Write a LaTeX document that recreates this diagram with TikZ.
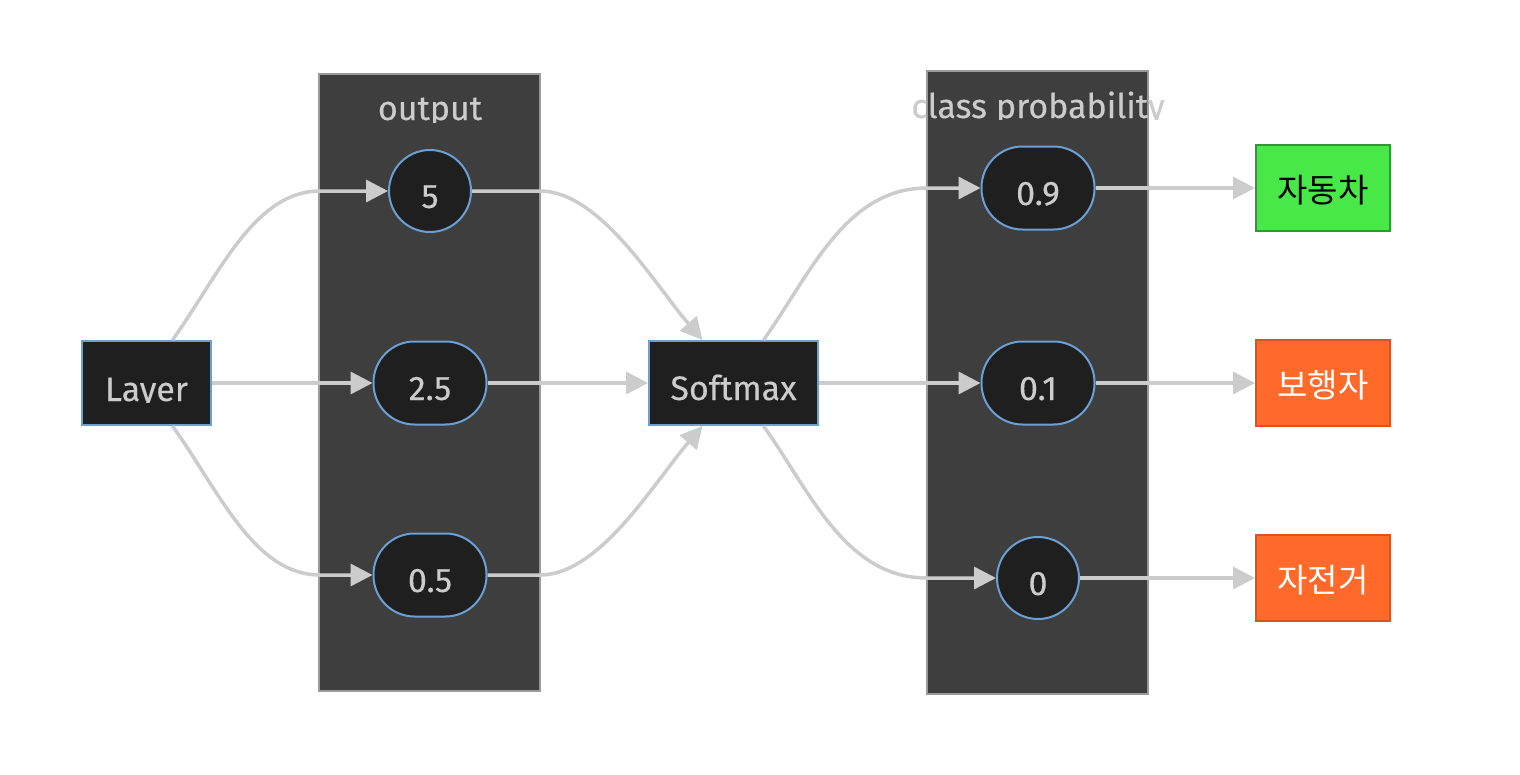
\documentclass[tikz,border=0pt]{standalone}
\usepackage{fontspec}
\setmainfont{Fira Sans}[FakeBold=0.3]
\newfontfamily\kr{Noto Sans CJK KR}
\usetikzlibrary{arrows.meta,calc}
\definecolor{edgecol}{HTML}{CCCCCC}
\definecolor{clfill}{HTML}{3D3E3D}
\definecolor{clborder}{HTML}{9A9A9A}
\definecolor{nfill}{HTML}{1F1F1F}
\definecolor{nborder}{HTML}{6C9FD4}
\definecolor{ntext}{HTML}{CCCCCC}
\definecolor{grfill}{HTML}{47E847}
\definecolor{grborder}{HTML}{2F9A2F}
\definecolor{orfill}{HTML}{FF6A2A}
\definecolor{orborder}{HTML}{D9541E}
\newcommand{\lbl}[1]{\raisebox{-17pt}[0pt][0pt]{#1}}
\newcommand{\klbl}[1]{\raisebox{-14pt}[0pt][0pt]{#1}}
\begin{document}
\begin{tikzpicture}[x=1pt,y=-1pt,
  cluster/.style={draw=clborder,fill=clfill,line width=1.2pt},
  cltext/.style={text=ntext,font=\fontsize{34}{40}\selectfont,inner sep=0pt,anchor=base},
  nbase/.style={draw=nborder,fill=nfill,line width=2pt,text=ntext,font=\fontsize{34}{40}\selectfont,inner sep=0pt},
  rectnode/.style={nbase,rectangle},
  circnode/.style={nbase,circle,minimum size=82pt},
  pillnode/.style={nbase,rectangle,rounded corners=41pt,minimum width=113pt,minimum height=83pt},
  classnode/.style={rectangle,line width=2pt,inner sep=0pt,minimum width=134pt,minimum height=86pt,font=\kr\fontsize{33}{38}\selectfont},
  edge/.style={draw=edgecol,line width=3.5pt,-{Triangle[length=22pt,width=22pt]}}
]
\useasboundingbox (0,0) rectangle (1520,774);
\fill[white] (0,0) rectangle (1520,774);
% clusters
\draw[cluster] (319,74) rectangle (540,691);
\draw[cluster] (927,71) rectangle (1148,694);
\begin{scope}
\clip (300,60) rectangle (560,122);
\node[cltext] (lout) at (430,120) {output};
\end{scope}
\begin{scope}
\clip (880,60) rectangle (1200,119.5);
\node[cltext] (lcp) at (1038,118) {class probability};
\end{scope}
% nodes
\node[rectnode,minimum width=129pt,minimum height=84pt] (lay) at (146.5,383) {};
\begin{scope}
\clip (90,350) rectangle (205,402.5);
\node[text=ntext,font=\fontsize{34}{40}\selectfont,inner sep=0pt,anchor=base] (laytext) at (146.5,401) {Layer};
\end{scope}
\node[circnode] (n5) at (430,191) {\lbl{5}};
\node[pillnode] (n25) at (430,383) {\lbl{2.5}};
\node[pillnode] (n05) at (430,575) {\lbl{0.5}};
\node[rectnode,minimum width=169pt,minimum height=84pt] (sm) at (733.5,383) {\lbl{Softmax}};
\node[pillnode] (n09) at (1038,188) {\lbl{0.9}};
\node[pillnode] (n01) at (1038,383) {\lbl{0.1}};
\node[circnode] (n0) at (1038,578) {\lbl{0}};
\node[classnode,draw=grborder,fill=grfill,text=black] (car) at (1323,188) {\klbl{자동차}};
\node[classnode,draw=orborder,fill=orfill,text=white] (ped) at (1323,383) {\klbl{보행자}};
\node[classnode,draw=orborder,fill=orfill,text=white] (bike) at (1323,578) {\klbl{자전거}};
% edges
\draw[edge] ([xshift=26pt]lay.north) .. controls (219,275) and (254,191) .. (320,191) -- (n5);
\draw[edge] (lay) -- (n25);
\draw[edge] ([xshift=26pt]lay.south) .. controls (219,491) and (254,575) .. (320,575) -- (n05);
\draw[edge] (n5.east) -- (540,191) .. controls (600,191) and (655,285) .. ([xshift=-31pt]sm.north);
\draw[edge] (n25) -- (sm);
\draw[edge] (n05.east) -- (540,575) .. controls (600,575) and (655,481) .. ([xshift=-31pt]sm.south);
\draw[edge] ([xshift=30pt]sm.north) .. controls (810,275) and (845,188) .. (927,188) -- (n09);
\draw[edge] (sm) -- (n01);
\draw[edge] ([xshift=30pt]sm.south) .. controls (810,491) and (845,578) .. (927,578) -- (n0);
\draw[edge] (n09) -- (car);
\draw[edge] (n01) -- (ped);
\draw[edge] (n0) -- (bike);
\end{tikzpicture}
\end{document}
